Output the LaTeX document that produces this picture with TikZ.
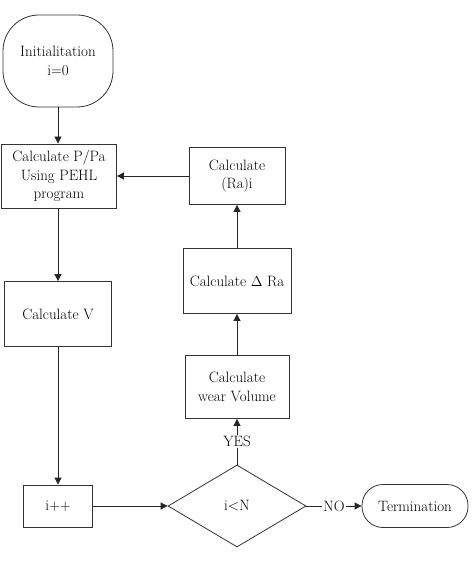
\documentclass[tikz,border=0pt]{standalone}
\usepackage{tikz}
\usetikzlibrary{shapes.geometric,arrows.meta}
\newcommand{\chartfont}{\fontsize{15}{18.5}\selectfont}
\tikzstyle{startnode} = [rectangle, rounded corners=36pt, minimum width=110pt, minimum height=92pt, align=center, draw=black!80, line width=0.8pt]
\tikzstyle{termnode} = [rectangle, rounded corners=21pt, minimum width=106pt, minimum height=43pt, align=center, draw=black!80, line width=0.8pt]
\tikzstyle{process} = [rectangle, align=center, draw=black!80, line width=0.8pt, inner sep=0pt]
\tikzstyle{decision} = [diamond, minimum width=138pt, minimum height=82pt, inner sep=0pt, draw=black!80, line width=0.8pt]
\tikzstyle{arrow} = [line width=0.8pt, draw=black!85, -{Triangle[length=7pt,width=7pt]}]

\begin{document}
\begin{tikzpicture}[x=1pt,y=-1pt,every node/.style={font=\chartfont}]
	\useasboundingbox (0,0) rectangle (473,564);

	\node (init) [startnode] at (58,61) {Initialitation\\i=0};
	\node (pehl) [process, minimum width=115pt, minimum height=64pt] at (59,176) {Calculate P/Pa\\Using PEHL\\program};
	\node (calcv) [process, minimum width=107pt, minimum height=65pt] at (58,314) {Calculate V};
	\node (incr) [process, minimum width=69pt, minimum height=42pt] at (58,506) {i++};
	\node (check) [decision] at (237,506) {i<N};
	\node (stop) [termnode] at (415,506) {Termination};
	\node (wear) [process, minimum width=104pt, minimum height=63pt] at (237,387) {Calculate\\wear Volume};
	\node (dra) [process, minimum width=108pt, minimum height=65pt] at (237,281) {Calculate $\Delta$ Ra};
	\node (rai) [process, minimum width=96pt, minimum height=57pt] at (237,176) {Calculate\\(Ra)i};

	\draw [arrow] (init) -- (init |- pehl.north);
	\draw [arrow] (calcv |- pehl.south) -- (calcv);
	\draw [arrow] (calcv) -- (incr);
	\draw [arrow] (incr) -- (check);
	\draw [arrow] (check) -- node[fill=white, inner sep=1pt] {NO} (stop);
	\draw [arrow] (check) -- node[fill=white, inner sep=1pt] {YES} (wear);
	\draw [arrow] (wear) -- (dra);
	\draw [arrow] (dra) -- (rai);
	\draw [arrow] (rai) -- (pehl);

\end{tikzpicture}
\end{document}
